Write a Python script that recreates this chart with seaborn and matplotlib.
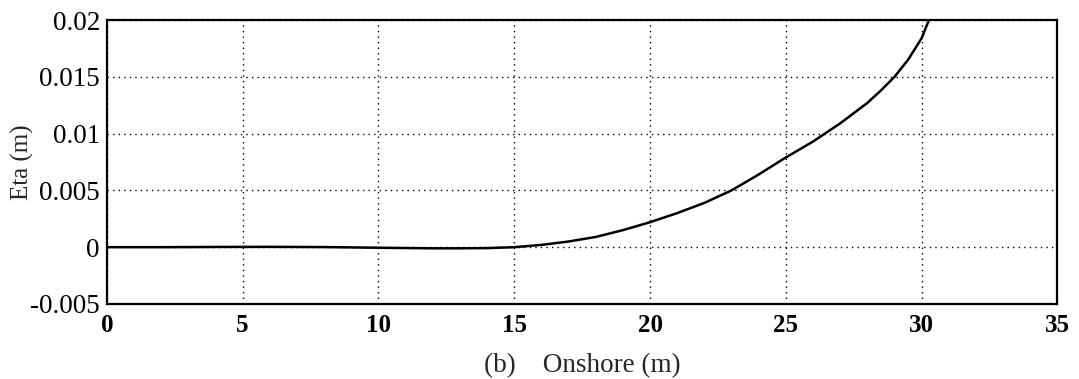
import matplotlib
matplotlib.use("Agg")
import matplotlib.pyplot as plt
import seaborn as sns
import pandas as pd

# Water surface elevation along the onshore profile
onshore_m = [0, 2, 4, 6, 8, 10, 12, 13, 14, 15, 16, 17, 18, 19, 20, 21, 22,
             23, 24, 25, 26, 27, 28, 28.5, 29, 29.5, 30, 30.3, 30.5]
eta_m = [0.0, 0.0, 0.00002, 0.00003, 0.00001, -0.00005, -0.0001, -0.0001,
         -0.00008, 0.0, 0.0002, 0.0005, 0.0009, 0.0015, 0.0022, 0.0030,
         0.0039, 0.0050, 0.0064, 0.0079, 0.0093, 0.0109, 0.0127, 0.0138,
         0.0150, 0.0165, 0.0184, 0.0202, 0.0216]

x_ticks = [0, 5, 10, 15, 20, 25, 30, 35]
y_ticks = [-0.005, 0, 0.005, 0.01, 0.015, 0.02]
y_tick_labels = ["-0.005", "0", "0.005", "0.01", "0.015", "0.02"]

sns.set_theme(style="white")
plt.rcParams["font.family"] = ["Liberation Serif", "DejaVu Serif"]

df = pd.DataFrame({"x": onshore_m, "eta": eta_m})

fig = plt.figure(figsize=(10.79, 3.79), dpi=100)
ax = fig.add_axes([0.099, 0.198, 0.881, 0.749])

sns.lineplot(data=df, x="x", y="eta", ax=ax, color="black", linewidth=1.8)

ax.set_xlim(0, 35)
ax.set_ylim(-0.005, 0.02)
ax.set_xticks(x_ticks)
ax.set_xticklabels([str(t) for t in x_ticks], fontsize=18, fontweight="bold")
ax.set_yticks(y_ticks)
ax.set_yticklabels(y_tick_labels, fontsize=19.5)

ax.grid(True, color="black", linestyle=(0, (1, 3)), linewidth=1.0)
for s in ax.spines.values():
    s.set_color("black")
    s.set_linewidth(1.6)
ax.tick_params(direction="in", length=5, width=1.6, colors="black",
               top=False, right=False)
ax.tick_params(axis="x", pad=7)
ax.tick_params(axis="y", pad=5)

ax.set_xlabel("(b)    Onshore (m)", fontsize=19.5, labelpad=12)
ax.set_ylabel("Eta (m)", fontsize=18)
ax.yaxis.set_label_coords(-0.077, 0.5)

fig.savefig("out.png", dpi=100)
